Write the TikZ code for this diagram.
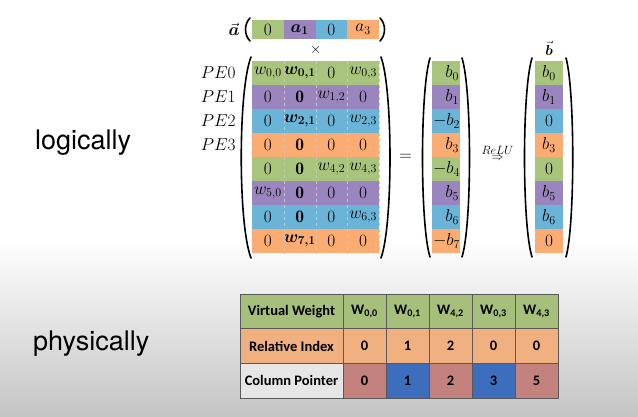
\documentclass[tikz,border=0pt]{standalone}
\usepackage{amsmath}
\usepackage{amssymb}
\usepackage{fontspec}
\newfontfamily\heros{TeX Gyre Heros}
\newfontfamily\carlito{Carlito}
\usetikzlibrary{positioning, calc}
\definecolor{rc0}{HTML}{A9C47C}
\definecolor{rc1}{HTML}{9B85BE}
\definecolor{rc2}{HTML}{69B4D7}
\definecolor{rc3}{HTML}{FAAC73}
\definecolor{tgreen}{HTML}{A6BF7A}
\definecolor{torange}{HTML}{F0B080}
\definecolor{tred}{HTML}{C3827D}
\definecolor{tblue}{HTML}{3D6EBE}
\definecolor{tgray}{HTML}{E6E6E6}

\begin{document}
\begin{tikzpicture}[x=1pt, y=-1pt,
    cell/.style={minimum width=31.75pt, minimum height=24pt, inner sep=0pt, font=\fontsize{17.5}{20}\selectfont},
    bcell/.style={cell, minimum width=28pt, text width=26pt, inner xsep=1pt, align=right},
    tcell/.style={draw=black!65, line width=0.6pt, minimum width=43pt, minimum height=34.7pt, inner sep=0pt,
        font=\carlito\bfseries\fontsize{14.5}{17}\selectfont},
    paren/.style={line width=1.6pt, line cap=round},
    sep/.style={white!55!gray, dashed, line width=0.7pt}]
        \useasboundingbox (0,0) rectangle (638,417);
        \fill[white] (0,0) rectangle (638,240);
        \shade[top color=white, bottom color=black!23] (0,240) rectangle (638,417);
        % left captions
        \node[anchor=base west, inner sep=0pt, font=\heros\fontsize{27}{30}\selectfont] (logic) at (35,150) {logically};
        \node[anchor=base west, inner sep=0pt, font=\heros\fontsize{27}{30}\selectfont] (phys) at (33,350) {physically};
        % weight matrix
        \foreach \r/\row in {0/{w_{0,0},\boldsymbol{w_{0,1}},0,w_{0,3}}, 1/{0,\mathbf{0},w_{1,2},0},
            2/{0,\boldsymbol{w_{2,1}},0,w_{2,3}}, 3/{0,\mathbf{0},0,0}, 4/{0,\mathbf{0},w_{4,2},w_{4,3}},
            5/{w_{5,0},\mathbf{0},0,0}, 6/{0,\mathbf{0},0,w_{6,3}}, 7/{0,\boldsymbol{w_{7,1}},0,0}}{
            \pgfmathtruncatemacro\k{mod(\r,4)}
            \foreach \e [count=\c from 0] in \row
                \node[cell, fill=rc\k] (w-\r-\c) at (267.875+31.75*\c, 73+24*\r) {$\e$};
        }
        \foreach \c in {0,...,3}
            \draw[sep] (w-0-\c.north east) -- (w-7-\c.south east);
        \foreach \r in {0,...,3}
            \node[left=16pt of w-\r-0, inner sep=0pt, font=\fontsize{17}{20}\selectfont] (pe-\r) {$PE\r$};
        % input vector
        \foreach \e [count=\c from 0] in {0,\boldsymbol{a_1},0,a_3}
            \node[cell, minimum height=19pt, fill=rc\c] (a-\c) at (267.875+31.75*\c, 29.5) {$\e$};
        \node[left=12pt of a-0, inner sep=0pt, font=\fontsize{17}{20}\selectfont] (veca) {$\vec{\boldsymbol{a}}$};
        \node[font=\fontsize{15}{18}\selectfont, inner sep=0pt] (times) at ($(a-1.south east)!0.5!(w-0-1.north east)$) {$\times$};
        % product and result
        \foreach \e [count=\r from 0] in {b_0,b_1,-b_2,b_3,-b_4,b_5,b_6,-b_7}{
            \pgfmathtruncatemacro\k{mod(\r,4)}
            \node[bcell, fill=rc\k] (p-\r) at (446, 73+24*\r) {$\e$};
        }
        \foreach \e [count=\r from 0] in {b_0,b_1,0,b_3,0,b_5,b_6,0}{
            \pgfmathtruncatemacro\k{mod(\r,4)}
            \node[cell, minimum width=28pt, fill=rc\k] (r-\r) at (549, 73+24*\r) {$\e$};
        }
        \node[above=5pt of r-0, inner sep=0pt, font=\fontsize{15}{18}\selectfont] (vecb) {$\vec{\boldsymbol{b}}$};
        \node[font=\fontsize{17}{20}\selectfont] (eq) at ($(w-3-3.south east)!0.5!(p-3.south west)$) {$=$};
        \node[inner sep=0pt, font=\fontsize{13}{15}\selectfont] (arr) at ($(p-3.south east)!0.5!(r-3.south west)+(0,1)$) {$\Rightarrow$};
        \node[above=1pt of arr, inner sep=0pt, font=\fontsize{13}{15}\selectfont] (relu) {$ReLU$};
        % brackets
        \draw[paren] (250,18) .. controls (244,24) and (244,35) .. (250,41);
        \draw[paren] (380,18) .. controls (386,24) and (386,35) .. (380,41);
        \draw[paren] (251,57) .. controls (238,90) and (238,225) .. (251,258);
        \draw[paren] (381,57) .. controls (393,90) and (393,225) .. (381,258);
        \draw[paren] (430,58) .. controls (420,90) and (420,225) .. (430,257);
        \draw[paren] (462,58) .. controls (472,90) and (472,225) .. (462,257);
        \draw[paren] (532,58) .. controls (522,90) and (522,225) .. (532,257);
        \draw[paren] (566,58) .. controls (575,90) and (575,225) .. (566,257);
        % compressed table
        \node[tcell, minimum width=103pt, fill=tgreen] (t-0-0) at (291.5,311.3) {Virtual Weight};
        \node[tcell, minimum width=103pt, fill=torange] (t-1-0) at (291.5,346) {Relative Index};
        \node[tcell, minimum width=103pt, fill=tgray] (t-2-0) at (291.5,380.7) {Column Pointer};
        \foreach \e [count=\c] in {W\textsubscript{0,0},W\textsubscript{0,1},W\textsubscript{4,2},W\textsubscript{0,3},W\textsubscript{4,3}}
            \node[tcell, fill=tgreen] (t-0-\c) at (321.5+43*\c, 311.3) {\e};
        \foreach \e [count=\c] in {0,1,2,0,0}
            \node[tcell, fill=torange] (t-1-\c) at (321.5+43*\c, 346) {\e};
        \foreach \e/\f [count=\c] in {0/tred,1/tblue,2/tred,3/tblue,5/tred}
            \node[tcell, fill=\f] (t-2-\c) at (321.5+43*\c, 380.7) {\e};
    \end{tikzpicture}
\end{document}
